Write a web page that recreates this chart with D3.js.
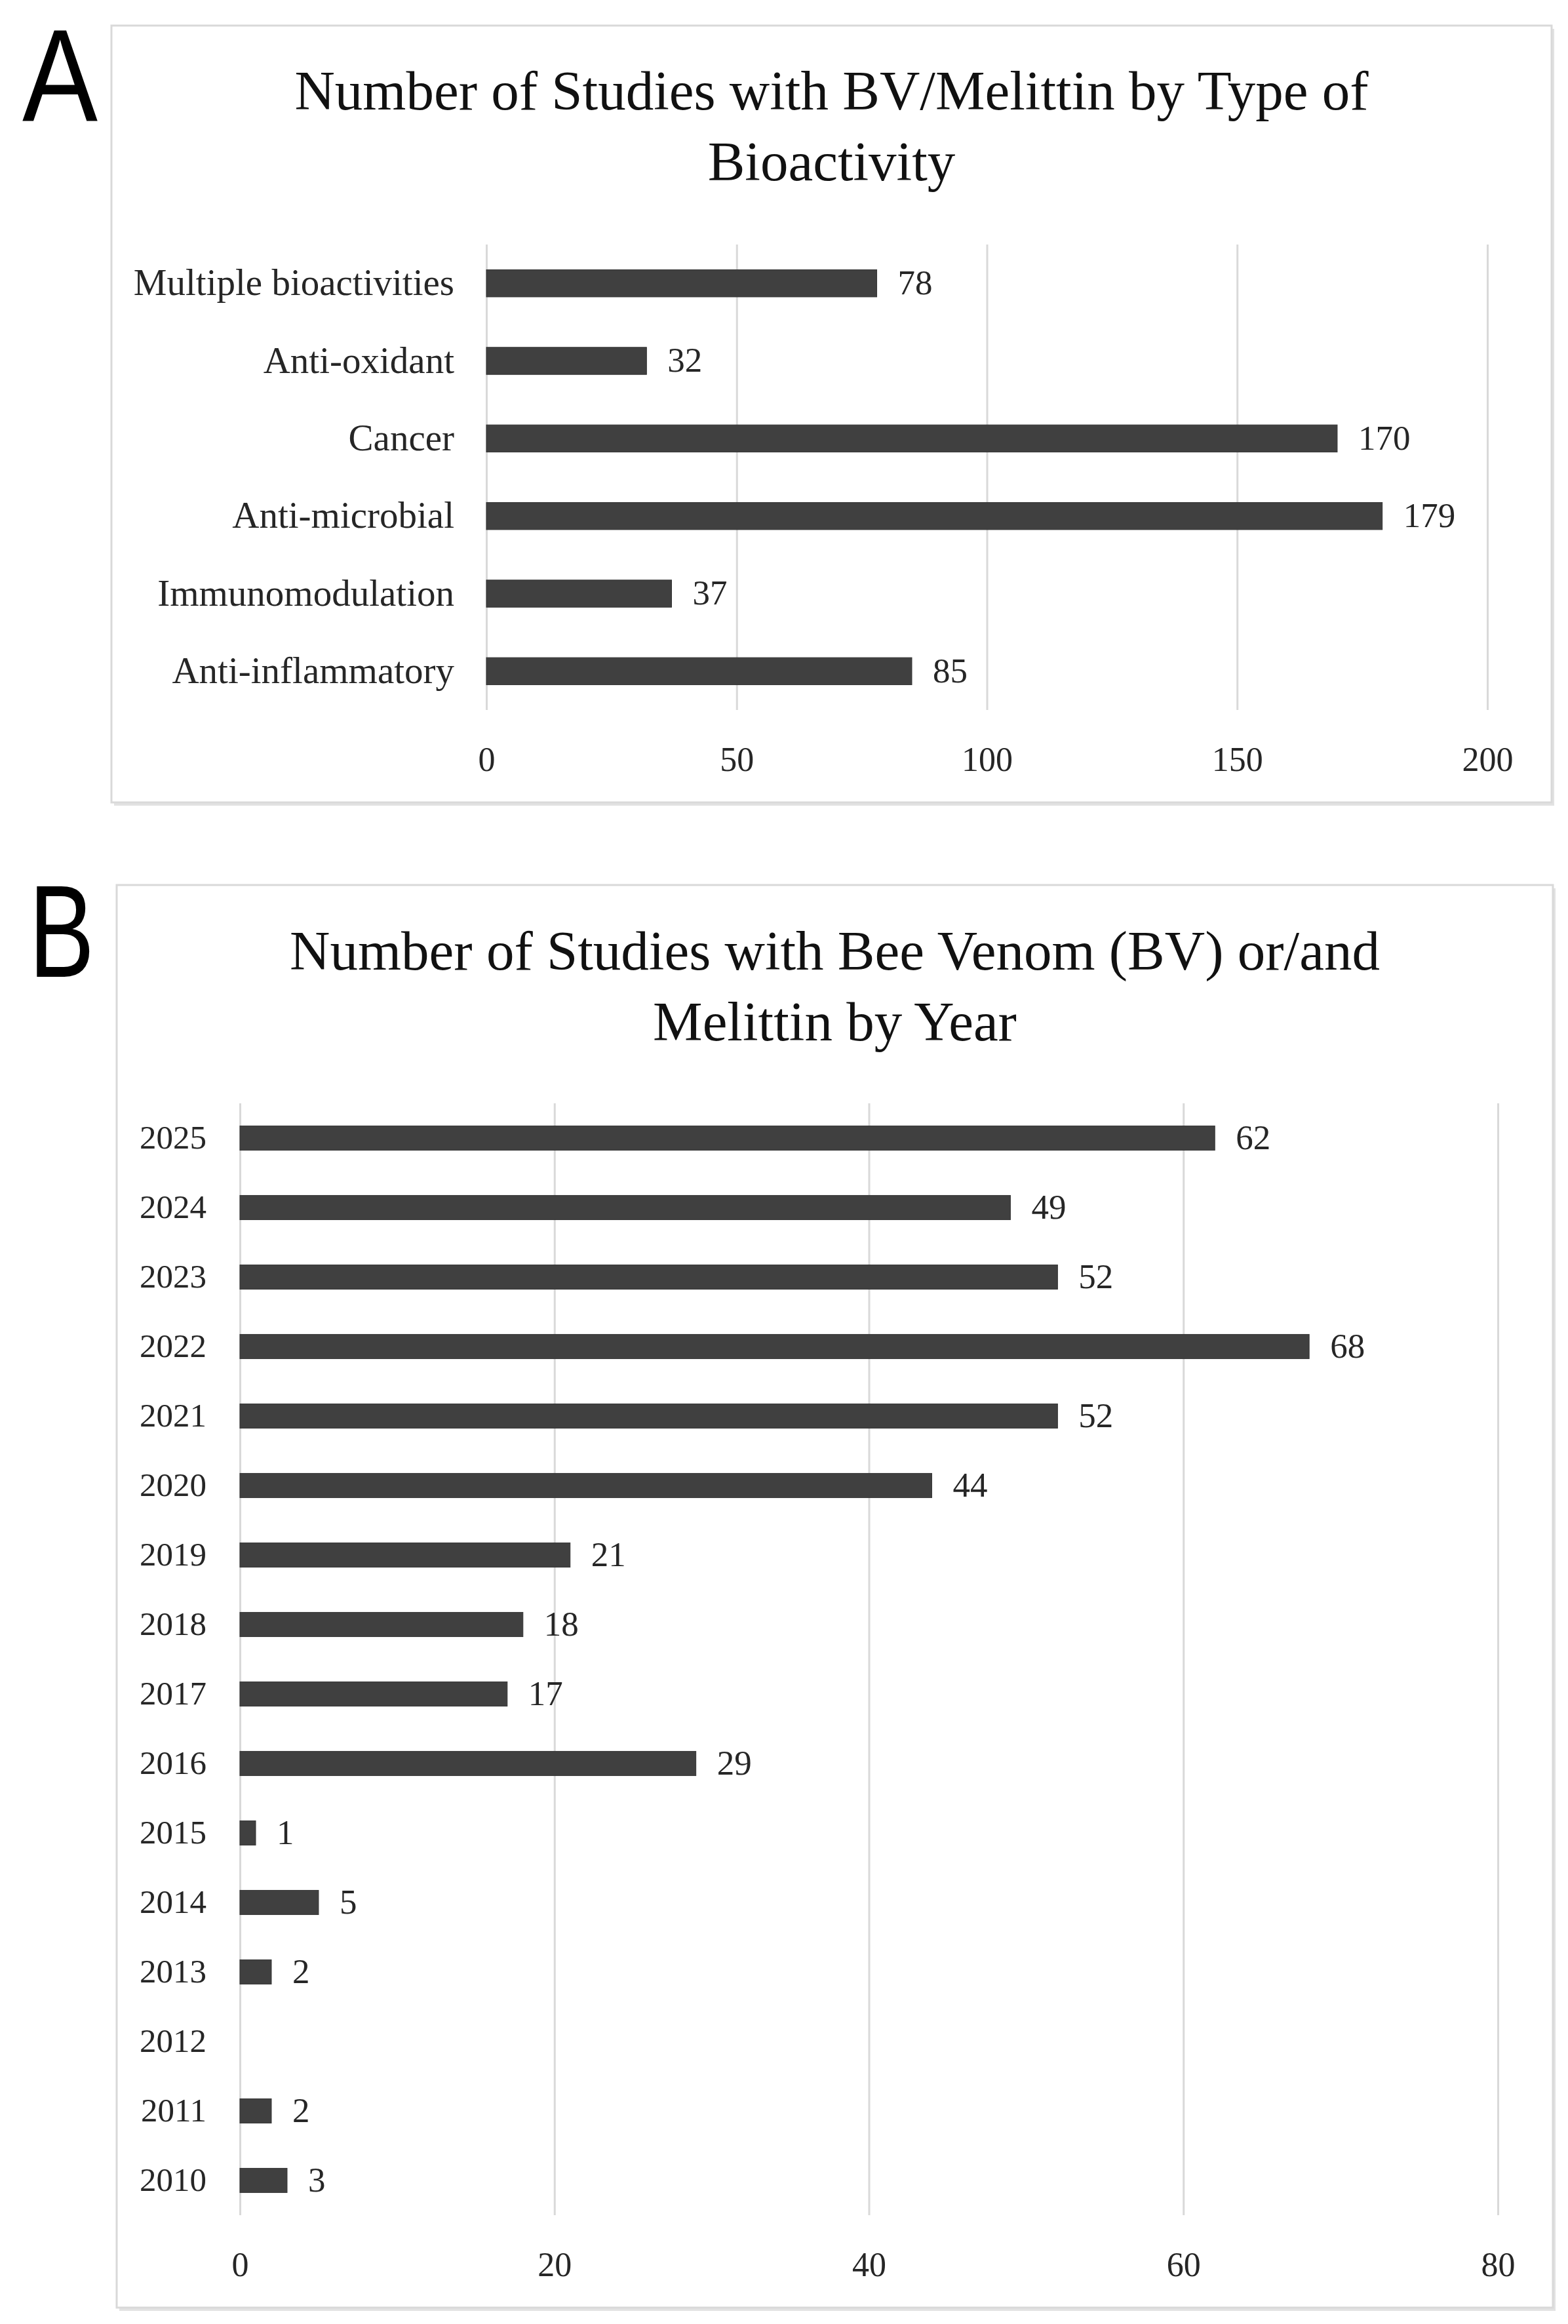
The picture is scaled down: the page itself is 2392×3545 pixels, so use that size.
<!DOCTYPE html>
<html>
<head>
<meta charset="utf-8">
<script src="https://cdn.jsdelivr.net/npm/d3@7"></script>
<style>
	body { margin: 0; background: #fff; }
	svg { display: block; }
	.tick text { font-family: "Liberation Serif", serif; fill: #262626; }
</style>
</head>
<body>
<div id="figure"></div>
<script>

// panel A data
var bioCategories = ["Multiple bioactivities", "Anti-oxidant", "Cancer", "Anti-microbial", "Immunomodulation", "Anti-inflammatory"];
var bioValues = [78, 32, 170, 179, 37, 85];
var bioTicks = [0, 50, 100, 150, 200];
var bioTitle = ["Number of Studies with BV/Melittin by Type of", "Bioactivity"];

// panel B data
var yearLabels = ["2025", "2024", "2023", "2022", "2021", "2020", "2019", "2018", "2017", "2016", "2015", "2014", "2013", "2012", "2011", "2010"];
var yearValues = [62, 49, 52, 68, 52, 44, 21, 18, 17, 29, 1, 5, 2, null, 2, 3];
var yearTicks = [0, 20, 40, 60, 80];
var yearTitle = ["Number of Studies with Bee Venom (BV) or/and", "Melittin by Year"];

var chart = {
	width: 2392,
	height: 3545,

	drawPanel: function(svg, opts){

		var g = svg.append("g");

		// the frame with its little shadow
		g.append("rect")
			.attr("x", opts.box[0] + 4).attr("y", opts.box[1] + 5)
			.attr("width", opts.box[2]).attr("height", opts.box[3])
			.style("fill", "#e2e2e2");
		g.append("rect")
			.attr("x", opts.box[0]).attr("y", opts.box[1])
			.attr("width", opts.box[2]).attr("height", opts.box[3])
			.style("fill", "#fff")
			.style("stroke", "#d9d9d9")
			.style("stroke-width", 3);

		// panel letter
		g.append("text")
			.attr("x", opts.letterPos[0]).attr("y", opts.letterPos[1])
			.attr("textLength", opts.letterPos[2])
			.attr("lengthAdjust", "spacingAndGlyphs")
			.style("font-family", "'Liberation Sans', sans-serif")
			.style("font-size", "200px")
			.style("fill", "#000")
			.text(opts.letter);

		// title, two lines
		g.selectAll(".title")
			.data(opts.title)
			.enter().append("text")
			.attr("class", "title")
			.attr("x", opts.box[0] + opts.box[2] / 2)
			.attr("y", function(d, i){ return opts.titleY + i * 108; })
			.attr("text-anchor", "middle")
			.style("font-family", "'Liberation Serif', serif")
			.style("font-size", "85px")
			.style("fill", "#111")
			.text(function(d){ return d; });

		var x = d3.scaleLinear()
			.domain([0, opts.ticks[opts.ticks.length - 1]])
			.range([opts.plot[0], opts.plot[1]]);

		var y = d3.scaleBand()
			.domain(opts.categories)
			.range([opts.plot[2], opts.plot[3]])
			.paddingInner(0.65)
			.paddingOuter(0.325);

		var plotH = opts.plot[3] - opts.plot[2];

		// vertical gridlines + tick labels
		var xAxis = g.append("g")
			.attr("transform", "translate(0," + opts.plot[3] + ")")
			.call(d3.axisBottom(x).tickValues(opts.ticks).tickSize(-plotH).tickPadding(56));
		xAxis.select(".domain").remove();
		xAxis.selectAll(".tick line").style("stroke", "#d9d9d9").style("stroke-width", 3);
		xAxis.selectAll(".tick text").style("font-size", "52px");

		// category labels
		var yAxis = g.append("g")
			.attr("transform", "translate(" + opts.plot[0] + ",0)")
			.call(d3.axisLeft(y).tickSize(0).tickPadding(opts.labelGap));
		yAxis.select(".domain").remove();
		yAxis.selectAll(".tick text").style("font-size", opts.labelSize + "px");

		var rows = opts.categories.map(function(c, i){
			return { name: c, value: opts.values[i] };
		}).filter(function(d){ return d.value != null; });

		// bars
		g.selectAll(".bar")
			.data(rows)
			.enter().append("rect")
			.attr("class", "bar")
			.attr("x", x(0))
			.attr("y", function(d){ return y(d.name); })
			.attr("width", function(d){ return x(d.value) - x(0); })
			.attr("height", y.bandwidth())
			.style("fill", "#404040")
			.style("stroke", "#333")
			.style("stroke-width", 1);

		// value labels
		g.selectAll(".val")
			.data(rows)
			.enter().append("text")
			.attr("class", "val")
			.attr("x", function(d){ return x(d.value) + 32; })
			.attr("y", function(d){ return y(d.name) + y.bandwidth() / 2; })
			.attr("dy", "0.32em")
			.style("font-family", "'Liberation Serif', serif")
			.style("font-size", "53px")
			.style("fill", "#262626")
			.text(function(d){ return d.value; });
	},

	init: function(){
		var svg = d3.select("#figure").append("svg")
			.attr("width", this.width)
			.attr("height", this.height);

		this.drawPanel(svg, {
			letter: "A",
			letterPos: [34, 184, 115],
			box: [170, 39, 2197, 1185],
			title: bioTitle,
			titleY: 167,
			plot: [742, 2269, 373, 1083],
			categories: bioCategories,
			values: bioValues,
			ticks: bioTicks,
			labelGap: 49,
			labelSize: 57
		});

		this.drawPanel(svg, {
			letter: "B",
			letterPos: [44, 1490, 100],
			box: [178, 1350, 2191, 2170],
			title: yearTitle,
			titleY: 1479,
			plot: [366, 2285, 1683, 3379],
			categories: yearLabels,
			values: yearValues,
			ticks: yearTicks,
			labelGap: 51,
			labelSize: 51
		});
	}
};

chart.init();
</script>
</body>
</html>
